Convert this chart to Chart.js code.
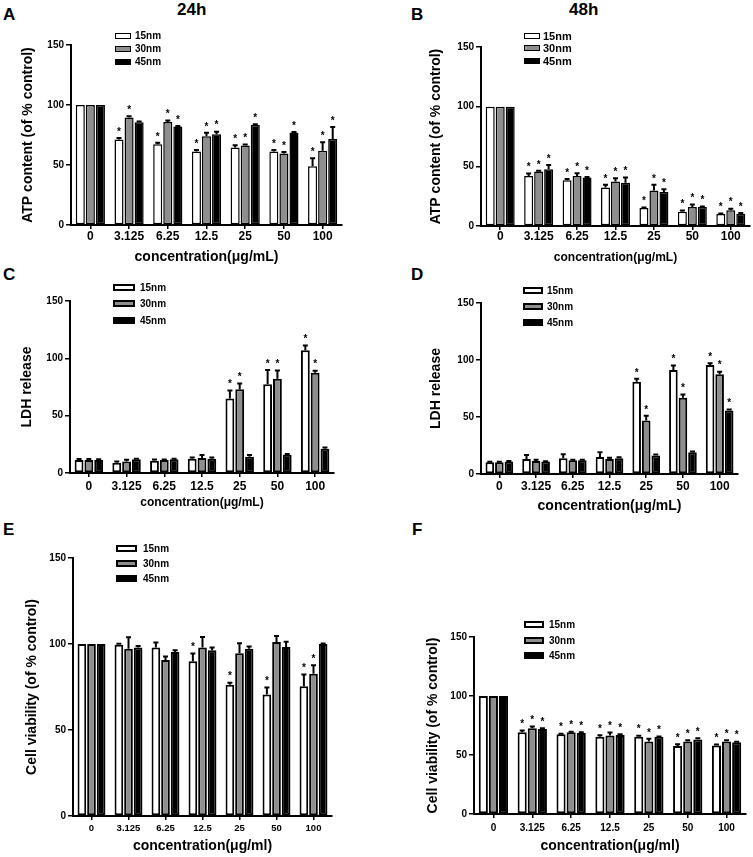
<!DOCTYPE html>
<html>
<head>
<meta charset="utf-8">
<script src="https://cdn.jsdelivr.net/npm/chart.js@4.4.0/dist/chart.umd.min.js"></script>
<style>
  html, body { margin: 0; padding: 0; background: #fff; overflow: hidden; }
  body { width: 753px; height: 857px; position: relative; font-family: 'Liberation Sans', Arial, sans-serif; font-weight: bold; color: #000; }
  canvas { position: absolute; }
  .lbl { position: absolute; font-size: 17px; line-height: 17px; white-space: nowrap; }
  .legend { position: absolute; }
  .legend .row { display: flex; align-items: center; position: absolute; left: 0; white-space: nowrap; }
  .legend .box { box-sizing: border-box; border: 2px solid #000; display: inline-block; }
</style>
</head>
<body>
<div class="lbl" style="left:3px;top:6px;">A</div>
<div class="lbl" style="left:411px;top:6px;">B</div>
<div class="lbl" style="left:3px;top:266px;">C</div>
<div class="lbl" style="left:411px;top:266px;">D</div>
<div class="lbl" style="left:3px;top:521px;">E</div>
<div class="lbl" style="left:412px;top:521px;">F</div>
<div class="lbl" style="left:177px;top:1px;">24h</div>
<div class="lbl" style="left:569px;top:1px;">48h</div>

<script>
// categories and series
var concentrations = ['0', '3.125', '6.25', '12.5', '25', '50', '100'];
var sizes = ['15nm', '30nm', '45nm'];
var fills = ['#ffffff', '#8e8e8e', '#000000'];

// A - ATP 24h
var atp24 = [
  [100, 71.2, 67.3, 61.2, 64.5, 61.2, 49],
  [100, 89.5, 85.9, 74, 66.2, 59.6, 61.8],
  [100, 85.6, 82, 75.6, 83.4, 77, 71.7]
];
var atp24Err = [
  [0, 1.2, 1.2, 1.2, 2, 1.2, 6.6],
  [0, 1.2, 1.2, 2.8, 0.9, 1.2, 7.2],
  [0, 0.6, 0.4, 2.2, 0.6, 0.6, 10]
];
var atp24Star = [
  [0, 1, 1, 1, 1, 1, 1],
  [0, 1, 1, 1, 1, 1, 1],
  [0, 0, 1, 1, 1, 1, 1]
];

// B - ATP 48h
var atp48 = [
  [100, 41.8, 38.4, 32.3, 15, 12, 10],
  [100, 45.7, 41.8, 37.3, 29.8, 15.9, 13.1],
  [100, 47.6, 40.7, 36.2, 28.4, 15.9, 10.3]
];
var atp48Err = [
  [0, 2.2, 1, 2.2, 0.5, 1, 0.5],
  [0, 0.5, 2.5, 2.8, 4.7, 2.2, 1.4],
  [0, 3.6, 0.3, 4.5, 2.5, 0.5, 0.5]
];
var atp48Star = [
  [0, 1, 1, 1, 1, 1, 1],
  [0, 1, 1, 1, 1, 1, 1],
  [0, 1, 1, 1, 1, 1, 1]
];

// C - LDH 24h
var ldh24 = [
  [11.3, 9, 10.7, 12.5, 65, 77.4, 107],
  [11.3, 10.1, 11.3, 13, 73, 82.3, 87.5],
  [11.3, 11.9, 11.9, 12.5, 14.2, 16, 21.2]
];
var ldh24Err = [
  [1, 1, 1, 1, 7, 12.5, 4.3],
  [1, 1.5, 0.5, 2.6, 5, 7, 1.7],
  [0.8, 0.5, 0.5, 1, 1.5, 0.6, 1]
];
var ldh24Star = [
  [0, 0, 0, 0, 1, 1, 1],
  [0, 0, 0, 0, 1, 1, 1],
  [0, 0, 0, 0, 0, 0, 0]
];

// D - LDH 48h
var ldh48 = [
  [10.3, 13.2, 13.8, 15, 80.9, 91.2, 95.6],
  [10.3, 11.5, 12, 13.2, 47, 66.8, 87.4],
  [10.9, 10.9, 12, 13.8, 16.2, 19.1, 55.6]
];
var ldh48Err = [
  [0.5, 3.5, 3.5, 4, 2.6, 4, 1.5],
  [0.5, 1, 0.5, 1, 4, 3, 2.3],
  [0.5, 0.3, 0.5, 0.8, 0.8, 0.6, 1]
];
var ldh48Star = [
  [0, 0, 0, 0, 1, 1, 1],
  [0, 0, 0, 0, 1, 1, 1],
  [0, 0, 0, 0, 0, 0, 1]
];

// E - cell viability 24h
var via24 = [
  [100, 99.6, 98, 90, 76.3, 70.7, 75.5],
  [100, 97.3, 90.7, 98, 94.6, 101.2, 82.7],
  [100, 98, 95.3, 96.3, 97.3, 98.3, 100]
];
var via24Err = [
  [0, 0.5, 2.8, 4.5, 1.2, 4, 6.8],
  [0, 6.6, 2, 6, 5.8, 3.5, 5],
  [0, 0.8, 1, 1.7, 1.2, 3, 0.3]
];
var via24Star = [
  [0, 0, 0, 1, 1, 1, 1],
  [0, 0, 0, 0, 0, 0, 1],
  [0, 0, 0, 0, 0, 0, 0]
];

// F - cell viability 48h
var via48 = [
  [100, 69.3, 67.6, 65.4, 65.4, 57.7, 58],
  [100, 72.7, 69.3, 66.5, 61.4, 61.4, 61.4],
  [100, 72.1, 68.7, 67, 65.4, 63.1, 60.8]
];
var via48Err = [
  [0, 1.4, 0.5, 1.4, 1, 1.4, 0.8],
  [0, 1.4, 0.5, 2.5, 2.3, 1, 1],
  [0, 0.5, 0.5, 0.5, 0.3, 1, 0.5]
];
var via48Star = [
  [0, 1, 1, 1, 1, 1, 1],
  [0, 1, 1, 1, 1, 1, 1],
  [0, 1, 1, 1, 1, 1, 1]
];

var yTicks = [0, 50, 100, 150];
var FONT = "'Liberation Sans', Arial, sans-serif";

Chart.defaults.font.family = FONT;
Chart.defaults.font.weight = 'bold';
Chart.defaults.color = '#000';

// error bars (upper only) + significance stars
var errorBars = {
  id: 'errorBars',
  afterDatasetsDraw: function (chart) {
    var ctx = chart.ctx;
    var y = chart.scales.y;
    ctx.save();
    ctx.strokeStyle = '#000';
    ctx.fillStyle = '#000';
    ctx.lineWidth = 2;
    ctx.font = 'bold 10px ' + FONT;
    ctx.textAlign = 'center';
    ctx.textBaseline = 'bottom';
    chart.data.datasets.forEach(function (ds, i) {
      chart.getDatasetMeta(i).data.forEach(function (bar, j) {
        var top = y.getPixelForValue(ds.data[j] + ds.errors[j]);
        if (ds.errors[j] > 0) {
          ctx.beginPath();
          ctx.moveTo(bar.x, bar.y);
          ctx.lineTo(bar.x, top);
          ctx.moveTo(bar.x - 2.5, top);
          ctx.lineTo(bar.x + 2.5, top);
          ctx.stroke();
        }
        if (ds.stars[j]) ctx.fillText('*', bar.x, top - 1);
      });
    });
    ctx.restore();
  }
};

function legend(p) {
  var wrap = document.createElement('div');
  wrap.className = 'legend';
  wrap.style.left = p.x + 'px';
  wrap.style.top = p.y + 'px';
  sizes.forEach(function (name, i) {
    var row = document.createElement('div');
    row.className = 'row';
    row.style.top = (i * p.dy - 8) + 'px';
    row.style.height = '16px';
    row.innerHTML = '<span class="box" style="width:' + p.bw + 'px;height:' + p.bh +
      'px;border-width:' + p.bl + 'px;background:' + fills[i] + '"></span>' +
      '<span style="margin-left:' + p.gap + 'px;font-size:' + p.fs + 'px">' + name + '</span>';
    wrap.appendChild(row);
  });
  document.body.appendChild(wrap);
}

function panel(p) {
  var YW = 60, PT = 12;
  var padR = Math.min(8, 752 - p.R);
  var left = p.L - YW, top = p.T - PT;
  var bottom = p.xTitleY + p.xTitleFs * 0.6;
  var w = p.R + padR - left, h = Math.round(bottom - top);
  var xH = h - (p.B - top);
  var xTickLh = p.xTickFs * 1.2;

  var cv = document.createElement('canvas');
  cv.width = w; cv.height = h;
  cv.style.left = left + 'px'; cv.style.top = top + 'px';
  cv.style.width = w + 'px'; cv.style.height = h + 'px';
  document.body.appendChild(cv);

  var datasets = sizes.map(function (name, i) {
    return {
      label: name,
      data: p.values[i],
      errors: p.errors[i],
      stars: p.stars[i],
      backgroundColor: fills[i],
      borderColor: '#000',
      borderWidth: p.bw,
      borderSkipped: false
    };
  });

  new Chart(cv.getContext('2d'), {
    type: 'bar',
    data: { labels: concentrations, datasets: datasets },
    options: {
      responsive: false,
      animation: false,
      devicePixelRatio: 1,
      categoryPercentage: 0.78,
      barPercentage: 0.9,
      layout: { padding: { left: 0, top: PT, right: padR, bottom: 0 } },
      plugins: { legend: { display: false }, tooltip: { enabled: false } },
      scales: {
        x: {
          grid: { display: true, offset: false, drawOnChartArea: false, drawTicks: true, tickLength: 4, color: '#000', lineWidth: 1.5 },
          border: { display: true, color: '#000', width: 2 },
          ticks: { font: { size: p.xTickFs, weight: 'bold' }, padding: p.xTickY - p.B - 4 - xTickLh / 2, maxRotation: 0, autoSkip: false },
          title: { display: true, text: p.xTitle, font: { size: p.xTitleFs, weight: 'bold' }, padding: 0 },
          afterFit: function (s) { s.height = xH; }
        },
        y: {
          min: 0, max: 150,
          afterBuildTicks: function (s) { s.ticks = yTicks.map(function (v) { return { value: v }; }); },
          grid: { display: true, drawOnChartArea: false, drawTicks: true, tickLength: 5, color: '#000', lineWidth: 1.5 },
          border: { display: true, color: '#000', width: 2 },
          ticks: { font: { size: 10, weight: 'bold' }, padding: 2 },
          title: { display: true, text: p.yTitle, font: { size: 14, weight: 'bold' }, padding: { top: p.yTitleX - left - 8.4, bottom: 0 } },
          afterFit: function (s) { s.width = YW; }
        }
      }
    },
    plugins: [errorBars]
  });
  legend(p.legend);
}

panel({ L: 71, T: 45, R: 342, B: 225, yTitleX: 28, xTickY: 237, xTitleY: 258, xTickFs: 12, xTitleFs: 14, bw: 1.5,
  values: atp24, errors: atp24Err, stars: atp24Star,
  yTitle: 'ATP content (of % control)', xTitle: 'concentration(\u03bcg/mL)',
  legend: { x: 115, y: 35.5, dy: 13, bw: 16, bh: 6, bl: 1.5, gap: 4, fs: 10 } });

panel({ L: 481, T: 47, R: 750, B: 226, yTitleX: 436, xTickY: 237, xTitleY: 258, xTickFs: 12, xTitleFs: 12, bw: 1.5,
  values: atp48, errors: atp48Err, stars: atp48Star,
  yTitle: 'ATP content (of % control)', xTitle: 'concentration(\u03bcg/mL)',
  legend: { x: 524, y: 35.5, dy: 12.5, bw: 16, bh: 6, bl: 1.5, gap: 3, fs: 11 } });

panel({ L: 70, T: 301, R: 334, B: 473, yTitleX: 27, xTickY: 487, xTitleY: 503, xTickFs: 12, xTitleFs: 12, bw: 2,
  values: ldh24, errors: ldh24Err, stars: ldh24Star,
  yTitle: 'LDH release', xTitle: 'concentration(\u03bcg/mL)',
  legend: { x: 113, y: 287, dy: 16.5, bw: 22, bh: 7, bl: 2, gap: 5, fs: 10 } });

panel({ L: 481, T: 303, R: 738, B: 474, yTitleX: 436, xTickY: 487, xTitleY: 507, xTickFs: 12, xTitleFs: 14, bw: 2,
  values: ldh48, errors: ldh48Err, stars: ldh48Star,
  yTitle: 'LDH release', xTitle: 'concentration(\u03bcg/mL)',
  legend: { x: 523, y: 290.5, dy: 16, bw: 20, bh: 7, bl: 2, gap: 4, fs: 10 } });

panel({ L: 73, T: 558, R: 332, B: 816, yTitleX: 32, xTickY: 828, xTitleY: 847, xTickFs: 9.5, xTitleFs: 14, bw: 2,
  values: via24, errors: via24Err, stars: via24Star,
  yTitle: 'Cell viability (of % control)', xTitle: 'concentration(\u03bcg/ml)',
  legend: { x: 116, y: 548.5, dy: 15, bw: 21, bh: 7, bl: 2, gap: 6, fs: 10 } });

panel({ L: 474, T: 637, R: 746, B: 814, yTitleX: 433, xTickY: 828, xTitleY: 847, xTickFs: 10, xTitleFs: 14, bw: 2,
  values: via48, errors: via48Err, stars: via48Star,
  yTitle: 'Cell viability (of % control)', xTitle: 'concentration(\u03bcg/ml)',
  legend: { x: 524, y: 624.5, dy: 15.5, bw: 20, bh: 7, bl: 2, gap: 5, fs: 10 } });
</script>
</body>
</html>
